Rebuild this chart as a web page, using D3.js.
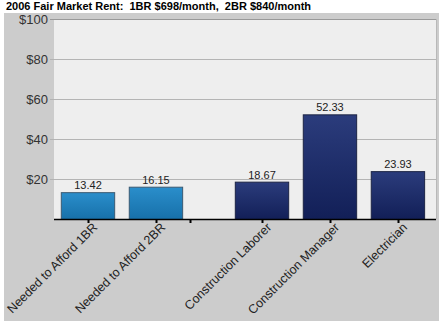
<!DOCTYPE html>
<html><head><meta charset="utf-8">
<script src="https://cdn.jsdelivr.net/npm/d3@7"></script>
<style>body{margin:0;background:#fff;}svg{display:block;font-family:"Liberation Sans",Arial,sans-serif;}text{white-space:pre;}</style>
</head><body>
<svg id="c" width="441" height="323"></svg>
<script>
const title = "2006 Fair Market Rent:  1BR $698/month,  2BR $840/month";
const categories = ["Needed to Afford 1BR", "Needed to Afford 2BR", "", "Construction Laborer", "Construction Manager", "Electrician"];
const values = [13.42, 16.15, null, 18.67, 52.33, 23.93];
const groups = ["need", "need", "gap", "wage", "wage", "wage"];
const slotWidths = [1, 1, 0.56, 1, 1, 1];
const yTicks = [0, 20, 40, 60, 80, 100];

const svg = d3.select("#c");
const plot = {l: 54, r: 436, t: 19, b: 219};

const slotPos = [];
let acc = 0;
slotWidths.forEach((w, i) => {
  if (groups[i] === "gap") { slotPos.push(acc); acc += w; }
  else { slotPos.push(acc + 0.5); acc += w; }
});
const x = d3.scaleLinear().domain([0, acc + 0.06]).range([plot.l, plot.r]);
const y = d3.scaleLinear().domain([0, 100]).range([plot.b, plot.t]);
const barW = 0.8;

svg.append("rect").attr("x", 4).attr("y", 13).attr("width", 435).attr("height", 308).attr("fill", "#cccccc");
svg.append("rect").attr("x", plot.l).attr("y", plot.t).attr("width", plot.r - plot.l).attr("height", plot.b - plot.t).attr("fill", "#eeeeee");

const defs = svg.append("defs");
const g1 = defs.append("linearGradient").attr("id", "gNeed").attr("x1", 0).attr("y1", 0).attr("x2", 0).attr("y2", 1);
g1.append("stop").attr("offset", "0%").attr("stop-color", "#2a8ecb");
g1.append("stop").attr("offset", "100%").attr("stop-color", "#1770a9");
const g2 = defs.append("linearGradient").attr("id", "gWage").attr("x1", 0).attr("y1", 0).attr("x2", 0).attr("y2", 1);
g2.append("stop").attr("offset", "0%").attr("stop-color", "#2b3c7c");
g2.append("stop").attr("offset", "100%").attr("stop-color", "#121f57");

svg.append("g").selectAll("line").data(yTicks.filter(d => d > 0)).join("line")
  .attr("x1", plot.l - 4).attr("x2", plot.r).attr("y1", d => y(d) + 0.5).attr("y2", d => y(d) + 0.5)
  .attr("stroke", d => d === 100 ? "#999999" : "#b4b4b4").attr("stroke-width", 1);
svg.append("line").attr("x1", plot.r + 0.5).attr("x2", plot.r + 0.5).attr("y1", plot.t).attr("y2", plot.b)
  .attr("stroke", "#b8b8b8");

const yAxis = d3.axisLeft(y).tickValues(yTicks.filter(d => d > 0)).tickFormat(d => "$" + d).tickSize(0).tickPadding(5);
const ya = svg.append("g").attr("transform", `translate(${plot.l - 1},0.5)`).call(yAxis);
ya.select(".domain").remove();
ya.selectAll("text").attr("font-size", 13).attr("fill", "#333").attr("font-family", "Liberation Sans, Arial, sans-serif");

const data = categories.map((c, i) => ({c, v: values[i], g: groups[i], p: slotPos[i]})).filter(d => d.v !== null);
svg.append("g").selectAll("rect").data(data).join("rect")
  .attr("x", d => x(d.p - barW / 2) + 0.5)
  .attr("y", d => y(d.v) + 0.5)
  .attr("width", d => x(barW) - x(0) - 1)
  .attr("height", d => y(0) - y(d.v))
  .attr("fill", d => d.g === "need" ? "url(#gNeed)" : "url(#gWage)")
  .attr("stroke", d => d.g === "need" ? "#3b5a72" : "#1c2445").attr("stroke-width", 1);

svg.append("g").selectAll("text").data(data).join("text")
  .attr("x", d => x(d.p)).attr("y", d => y(d.v) - 3)
  .attr("text-anchor", "middle").attr("font-size", 11).attr("fill", "#222")
  .text(d => d.v.toFixed(2));

svg.append("line").attr("x1", plot.l).attr("x2", plot.r).attr("y1", plot.b + 0.5).attr("y2", plot.b + 0.5)
  .attr("stroke", "#000").attr("stroke-width", 1.6);
svg.append("g").selectAll("line").data(slotPos).join("line")
  .attr("x1", d => Math.round(x(d)) + 0.5).attr("x2", d => Math.round(x(d)) + 0.5)
  .attr("y1", plot.b).attr("y2", plot.b + 4).attr("stroke", "#000").attr("stroke-width", 2);

svg.append("g").selectAll("text").data(categories.map((c, i) => ({c, p: slotPos[i]})).filter(d => d.c)).join("text")
  .attr("transform", d => `translate(${x(d.p) + 7},${plot.b + 6}) rotate(-45)`)
  .attr("text-anchor", "end").attr("dy", "0.35em").attr("font-size", 12.5).attr("fill", "#222")
  .text(d => d.c);

svg.append("text").attr("x", 6).attr("y", 10).attr("font-size", 11).attr("font-weight", "bold").attr("fill", "#000")
  .text(title);
</script>
</body></html>
